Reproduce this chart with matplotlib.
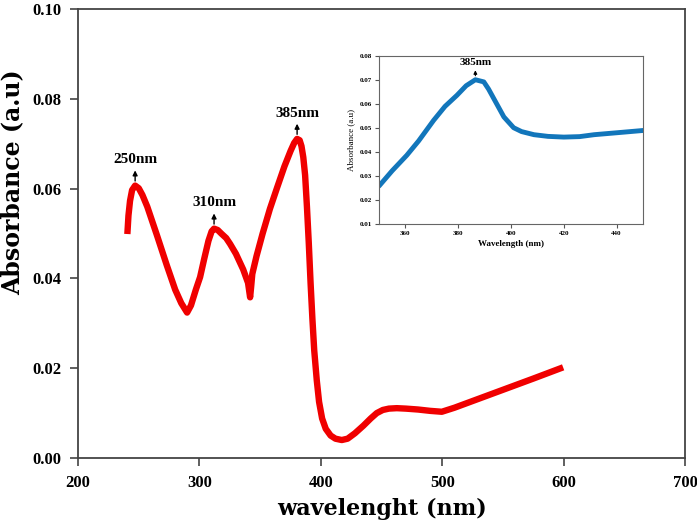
import matplotlib
matplotlib.use("Agg")
from matplotlib import pyplot as plt

# main spectrum
wl = [240.6, 241.5, 242.8, 244.5, 247, 250, 253, 257, 265, 273, 280, 285, 289.8,
      293, 297, 300.5, 304, 307.4, 310, 312, 315, 318, 322, 325.2, 330, 336, 340,
      341.7, 342.5, 343.5, 347, 352, 358, 364, 370, 375, 378, 380.4, 382.5, 384,
      385.5, 387, 388.5, 390, 391.5, 393, 394.5, 396.6, 398.5, 401, 404, 408, 412,
      417.2, 422, 428, 435, 441, 446, 451, 456, 462.5, 470, 480, 490, 499.6, 510,
      525, 550, 575, 599.5]
absb = [0.0499, 0.0540, 0.0573, 0.0597, 0.0607, 0.0601, 0.0586, 0.0560, 0.0496,
        0.0430, 0.0375, 0.0345, 0.0324, 0.0340, 0.0375, 0.0403, 0.0445, 0.0484,
        0.0505, 0.0511, 0.0508, 0.0500, 0.0490, 0.0477, 0.0455, 0.0420, 0.0390,
        0.0358, 0.0380, 0.0410, 0.0450, 0.0500, 0.0555, 0.0603, 0.0650, 0.0684,
        0.0702, 0.0711, 0.0708, 0.0695, 0.0670, 0.0630, 0.0560, 0.0480, 0.0390,
        0.0310, 0.0240, 0.0173, 0.0125, 0.0088, 0.0065, 0.0050, 0.0043, 0.0040,
        0.0043, 0.0055, 0.0072, 0.0088, 0.0100, 0.0107, 0.0110, 0.0111, 0.0110,
        0.0108, 0.0105, 0.0103, 0.0112, 0.0127, 0.0152, 0.0177, 0.0202]

# inset (zoom on 385 nm band)
wl_in = [350, 355, 360.5, 365, 370.7, 375, 379.5, 383, 386.5, 389.7, 391.5, 393.5,
         395.5, 397.3, 401, 404, 408.7, 414, 420, 426, 431.5, 440, 450.5]
abs_in = [0.0258, 0.0322, 0.0386, 0.0446, 0.0532, 0.0590, 0.0636, 0.0676, 0.0701,
          0.0692, 0.0662, 0.0622, 0.0582, 0.0546, 0.0501, 0.0485, 0.0472, 0.0465,
          0.0462, 0.0464, 0.0472, 0.0480, 0.0490]

peaks = [(247, 0.0607, "250nm"), (312, 0.0511, "310nm"), (380.4, 0.0711, "385nm")]

serif = "Liberation Serif"

fig = plt.figure(figsize=(6.97, 5.28), dpi=100)
ax = fig.add_axes([0.112, 0.1326, 0.871, 0.85])
ax.plot(wl, absb, color="#f00000", lw=4.6, solid_joinstyle="round", solid_capstyle="butt")
ax.set_xlim(200, 700)
ax.set_ylim(0, 0.10)
ax.set_xticks([200, 300, 400, 500, 600, 700])
ax.set_yticks([0.0, 0.02, 0.04, 0.06, 0.08, 0.10])
ax.set_yticklabels(["0.00", "0.02", "0.04", "0.06", "0.08", "0.10"])
for lab in ax.get_xticklabels() + ax.get_yticklabels():
    lab.set_family(serif)
    lab.set_fontweight("bold")
    lab.set_fontsize(12)
ax.tick_params(direction="out", length=6, width=1.2, color="#444444", pad=6)
for s in ax.spines.values():
    s.set_color("#444444")
    s.set_linewidth(1.3)
ax.set_xlabel("wavelenght (nm)", family="DejaVu Serif", fontweight="bold", fontsize=16)
ax.xaxis.set_label_coords(0.5, -0.09)
ax.set_ylabel("Absorbance (a.u)", family="DejaVu Serif", fontweight="bold", fontsize=17)
ax.yaxis.set_label_coords(-0.088, 0.615)

for x, y, txt in peaks:
    ax.annotate("", xy=(x, y + 0.0040), xytext=(x, y + 0.0004),
                arrowprops=dict(arrowstyle="-|>", color="black", lw=1, mutation_scale=7))
    ax.text(x, y + 0.0043, txt, ha="center", va="bottom", family=serif,
            fontweight="bold", fontsize=11)

# inset
ins = fig.add_axes([0.5438, 0.5758, 0.3787, 0.3182])
ins.plot(wl_in, abs_in, color="#1276bb", lw=3.5, solid_capstyle="round")
ins.set_xlim(350, 450)
ins.set_ylim(0.01, 0.08)
ins.set_xticks([360, 380, 400, 420, 440])
ins.set_yticks([0.01, 0.02, 0.03, 0.04, 0.05, 0.06, 0.07, 0.08])
ins.set_yticklabels(["0.01", "0.02", "0.03", "0.04", "0.05", "0.06", "0.07", "0.08"])
for lab in ins.get_xticklabels() + ins.get_yticklabels():
    lab.set_family(serif)
    lab.set_fontweight("bold")
    lab.set_fontsize(5)
ins.tick_params(direction="out", length=3, width=0.8, color="#555555", pad=2)
for s in ins.spines.values():
    s.set_color("#666666")
    s.set_linewidth(0.8)
ins.set_xlabel("Wavelength (nm)", family=serif, fontweight="bold", fontsize=6.5, labelpad=3)
ins.set_ylabel("Absorbance (a.u)", family=serif, fontsize=6.5, labelpad=3)
ins.annotate("", xy=(386.5, 0.0752), xytext=(386.5, 0.0706),
             arrowprops=dict(arrowstyle="-|>", color="black", lw=0.8, mutation_scale=5))
ins.text(386.5, 0.0753, "385nm", ha="center", va="bottom", family=serif,
         fontweight="bold", fontsize=8)

fig.savefig("out.png", dpi=100)
